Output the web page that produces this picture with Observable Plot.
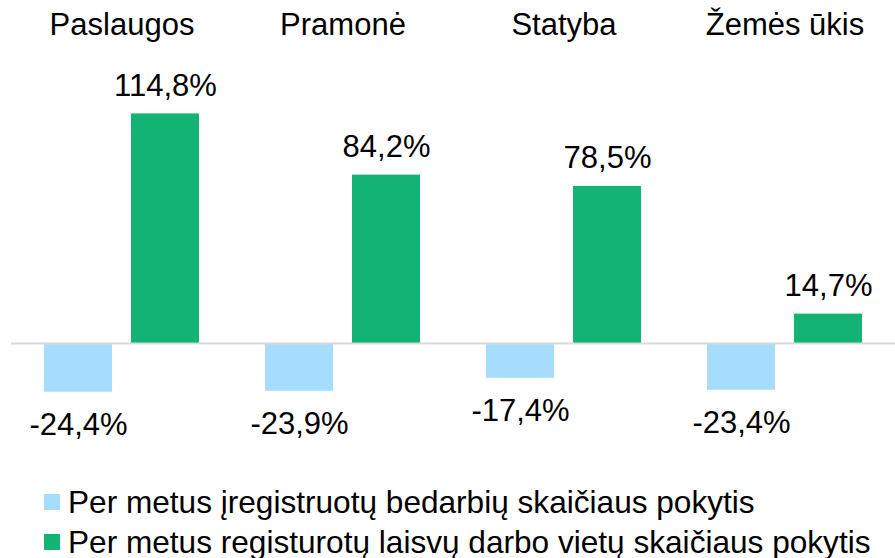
<!DOCTYPE html>
<html>
<head>
<meta charset="utf-8">
<script src="https://cdn.jsdelivr.net/npm/d3@7"></script>
<script src="https://cdn.jsdelivr.net/npm/@observablehq/plot@0.6"></script>
<style>
  body { margin: 0; background: #fff; font-family: "Liberation Sans", Arial, sans-serif; }
  #wrap { position: relative; width: 895px; height: 558px; }
  #legend { position: absolute; left: 44px; top: 482px; font-size: 31.6px; color: #000; }
  .item { display: flex; align-items: center; height: 40px; white-space: nowrap; }
  .sw { width: 16px; height: 16px; margin-right: 8px; flex: none; }
</style>
</head>
<body>
<div id="wrap"><div id="chart"></div><div id="legend"></div></div>
<script>
const categories = ["Paslaugos", "Pramonė", "Statyba", "Žemės ūkis"];
const seriesNames = [
  "Per metus įregistruotų bedarbių skaičiaus pokytis",
  "Per metus registurotų laisvų darbo vietų skaičiaus pokytis"
];
const unemployedChange = [-24.4, -23.9, -17.4, -23.4];
const vacanciesChange = [114.8, 84.2, 78.5, 14.7];
const colors = ["#a6ddff", "#13b373"];

const data = [];
categories.forEach((c, i) => {
  data.push({cat: c, series: seriesNames[0], value: unemployedChange[i]});
  data.push({cat: c, series: seriesNames[1], value: vacanciesChange[i]});
});
const fmt = v => v.toFixed(1).replace(".", ",") + "%";

const chart = Plot.plot({
  width: 895,
  height: 470,
  marginLeft: 11,
  marginRight: 0,
  marginTop: 43,
  marginBottom: 27,
  style: {fontFamily: "Liberation Sans, Arial, sans-serif", fontSize: "31px", color: "#000", background: "#fff"},
  fx: {domain: categories, padding: 0, axis: null},
  x: {domain: seriesNames, paddingInner: 0.22, paddingOuter: 0.38, axis: null},
  y: {domain: [-50, 150], axis: null},
  color: {domain: seriesNames, range: colors},
  marks: [
    Plot.barY(data, {fx: "cat", x: "series", y: "value", fill: "series"}),
    Plot.ruleY([0], {stroke: "#d9d9d9", strokeWidth: 2}),
    Plot.text(data.filter(d => d.value >= 0), {fx: "cat", x: "series", y: "value", text: d => fmt(d.value), dy: -28, fill: "#000", fontSize: 31}),
    Plot.text(data.filter(d => d.value < 0), {fx: "cat", x: "series", y: "value", text: d => fmt(d.value), dy: 33, fill: "#000", fontSize: 31}),
    Plot.text(categories, {fx: d => d, text: d => d, frameAnchor: "top", lineAnchor: "middle", dy: -18, fill: "#000", fontSize: 31})
  ]
});
document.getElementById("chart").appendChild(chart);

const legend = document.getElementById("legend");
seriesNames.forEach((name, i) => {
  const it = document.createElement("div");
  it.className = "item";
  const sw = document.createElement("span");
  sw.className = "sw";
  sw.style.background = colors[i];
  const t = document.createElement("span");
  t.textContent = name;
  it.appendChild(sw); it.appendChild(t);
  legend.appendChild(it);
});
</script>
</body>
</html>
